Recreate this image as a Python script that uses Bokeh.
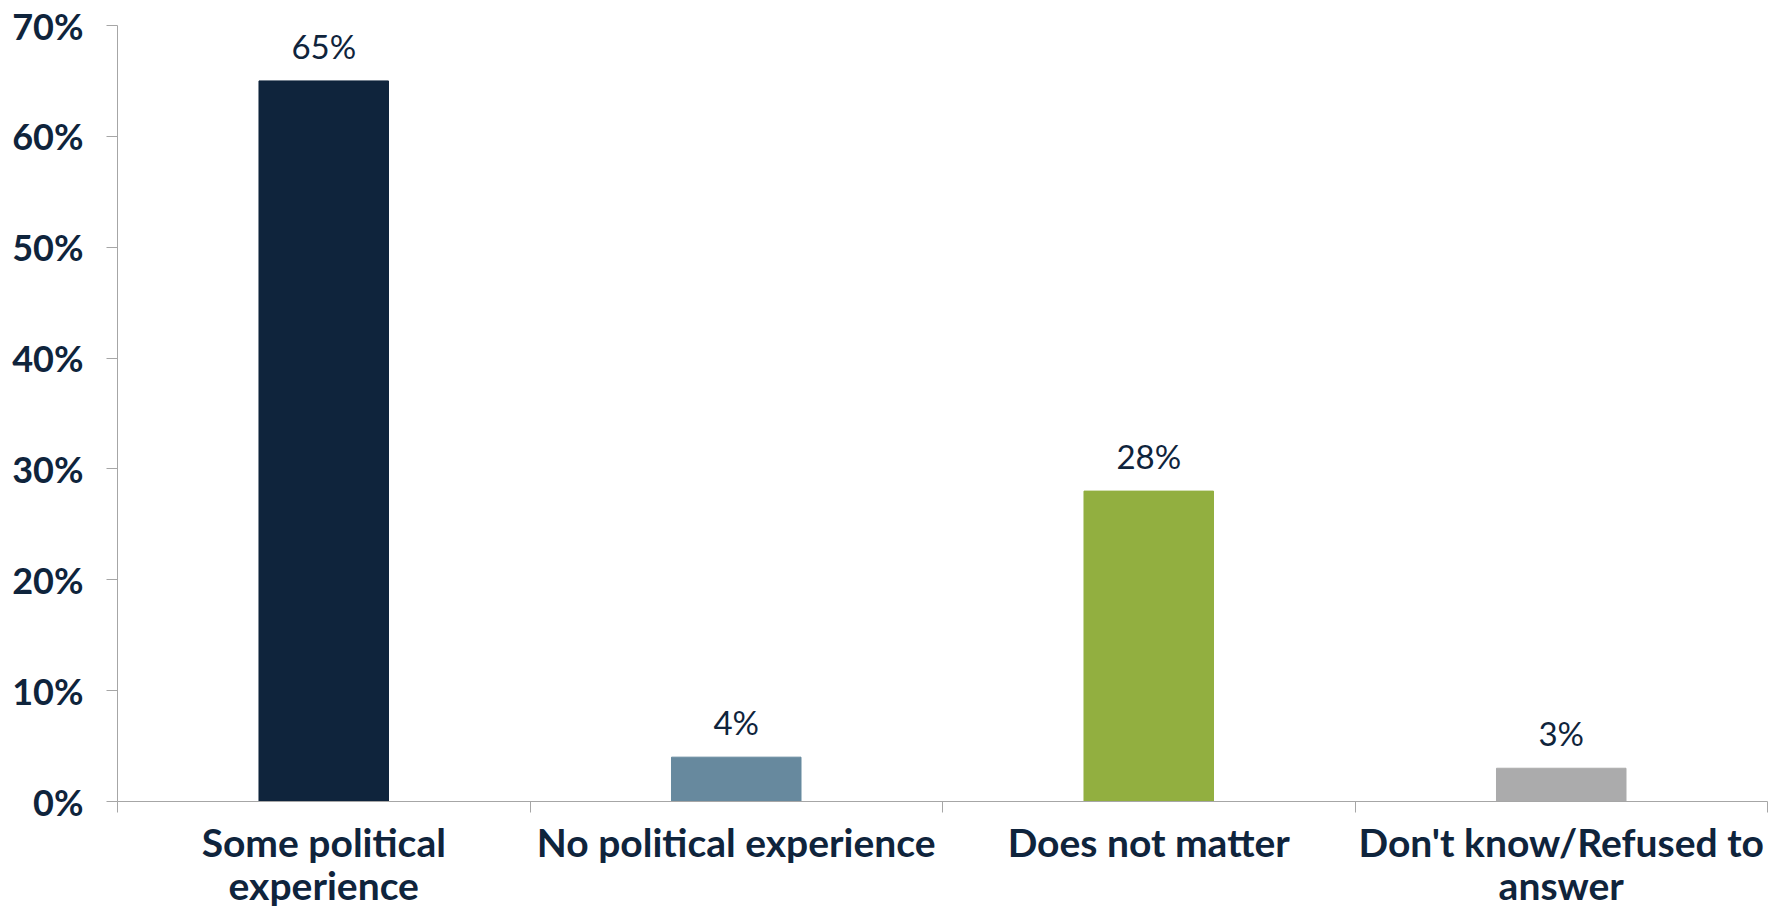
from bokeh.plotting import figure
from bokeh.models import ColumnDataSource, Range1d, FixedTicker
from bokeh.core.properties import value
from bokeh.embed import file_html
from bokeh.resources import INLINE

categories = ["Some political experience", "No political experience", "Does not matter", "Don't know/Refused to answer"]
tick_labels = ["Some political\nexperience", "No political experience", "Does not matter", "Don't know/Refused to\nanswer"]
values = [65, 4, 28, 3]
colors = ["#0F243C", "#67899E", "#92AF40", "#ABABAC"]
y_ticks = [0, 10, 20, 30, 40, 50, 60, 70]

TEXT = "#0F243C"
AXIS = "#A6A6A6"

xs = [i + 0.5 for i in range(len(categories))]
src = ColumnDataSource(dict(x=xs, top=values, color=colors,
                            label=[f"{v}%" for v in values]))

p = figure(width=1775, height=911, output_backend="svg", toolbar_location=None,
           x_range=Range1d(0, len(categories)), y_range=Range1d(0, 70),
           min_border_left=117, min_border_right=8, min_border_top=25, min_border_bottom=0)
p.outline_line_color = None
p.xgrid.visible = False
p.ygrid.visible = False

p.vbar(x="x", top="top", width=0.314, color="color", source=src)
p.text(x="x", y="top", text="label", source=src, text_align="center", text_baseline="bottom",
       y_offset=-15, text_font=value("Lato"), text_font_size="33px", text_color=TEXT)

# y axis
p.yaxis.ticker = FixedTicker(ticks=y_ticks, minor_ticks=[])
p.yaxis.major_label_overrides = {t: f"{t}%" for t in y_ticks}
p.yaxis.major_tick_in = 0
p.yaxis.major_tick_out = 11
p.yaxis.minor_tick_out = 0
p.yaxis.minor_tick_in = 0
p.yaxis.axis_line_color = AXIS
p.yaxis.major_tick_line_color = AXIS
p.yaxis.major_label_standoff = 23
p.yaxis.major_label_text_font = "Lato"
p.yaxis.major_label_text_font_style = "bold"
p.yaxis.major_label_text_font_size = "36px"
p.yaxis.major_label_text_color = TEXT

# x axis: labels at centers, tick marks at category boundaries
p.xaxis.ticker = FixedTicker(ticks=xs, minor_ticks=list(range(len(categories) + 1)))
p.xaxis.major_label_overrides = {x: t for x, t in zip(xs, tick_labels)}
p.xaxis.major_tick_in = 0
p.xaxis.major_tick_out = 0
p.xaxis.minor_tick_in = 0
p.xaxis.minor_tick_out = 11
p.xaxis.axis_line_color = AXIS
p.xaxis.minor_tick_line_color = AXIS
p.xaxis.major_label_standoff = 6
p.xaxis.major_label_text_font = "Lato"
p.xaxis.major_label_text_font_style = "bold"
p.xaxis.major_label_text_font_size = "39px"
p.xaxis.major_label_text_color = TEXT
p.xaxis.major_label_text_line_height = 0.95

open("out.html", "w").write(file_html(p, INLINE))
